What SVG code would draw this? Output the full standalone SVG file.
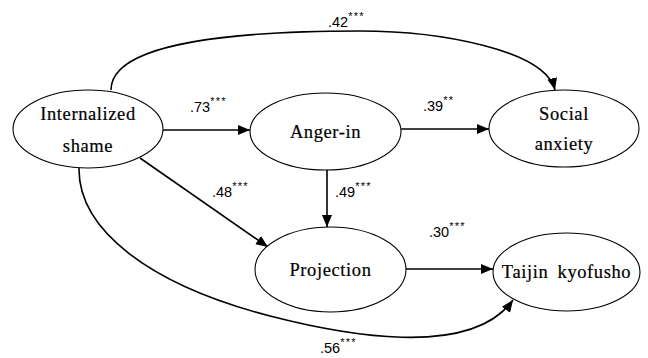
<svg xmlns="http://www.w3.org/2000/svg" width="648" height="358" viewBox="0 0 648 358">
<style>
.node ellipse{fill:#fff;stroke:#000;stroke-width:1.1}
.node text{font-family:'Liberation Serif','Times New Roman',serif;font-size:18.5px;letter-spacing:0.6px;text-anchor:middle;fill:#000;stroke:#000;stroke-width:0.2}
.edge{fill:none;stroke:#000;stroke-width:1.6;marker-end:url(#ah)}
.lbl{font-family:'Liberation Sans',Arial,sans-serif;font-size:14.5px;fill:#000}
.sup{font-size:11px;letter-spacing:1.2px}
</style>
<defs>
<marker id="ah" markerUnits="userSpaceOnUse" markerWidth="13" markerHeight="11" refX="12" refY="5" orient="auto">
<path d="M0,0 L12,5 L0,10 z" fill="#000"/>
</marker>
</defs>
<rect width="648" height="358" fill="#fff"/>
<g id="connectors">
<path class="edge" d="M163,130 H250"/>
<path class="edge" d="M401,129 H489"/>
<path class="edge" d="M327,170 V227"/>
<path class="edge" d="M406,269 H493"/>
<path class="edge" d="M140,158 L268,247"/>
<path class="edge" d="M111,90 C111,40 250,31 360,31 C440,31 545,50 555,90"/>
<path class="edge" d="M79,168 C78,230 150,285 270,316 C340,334 470,360 513,300"/>
</g>
<g id="labels">
<text class="lbl" x="328" y="27">.42<tspan class="sup" dy="-7">***</tspan></text>
<text class="lbl" x="190" y="112">.73<tspan class="sup" dy="-7">***</tspan></text>
<text class="lbl" x="423" y="111">.39<tspan class="sup" dy="-7">**</tspan></text>
<text class="lbl" x="212" y="197">.48<tspan class="sup" dy="-7">***</tspan></text>
<text class="lbl" x="335" y="197">.49<tspan class="sup" dy="-7">***</tspan></text>
<text class="lbl" x="429" y="237">.30<tspan class="sup" dy="-7">***</tspan></text>
<text class="lbl" x="320" y="353">.56<tspan class="sup" dy="-7">***</tspan></text>
</g>
<g id="shame" class="node">
<ellipse cx="88" cy="129" rx="75" ry="39"/>
<text x="88" y="120">Internalized</text>
<text x="88" y="152">shame</text>
</g>
<g id="anger" class="node">
<ellipse cx="325.5" cy="131.5" rx="75.5" ry="38.5"/>
<text x="325.5" y="138">Anger-in</text>
</g>
<g id="social" class="node">
<ellipse cx="564" cy="128.5" rx="75" ry="38.5"/>
<text x="564" y="120">Social</text>
<text x="564" y="150">anxiety</text>
</g>
<g id="projection" class="node">
<ellipse cx="330.5" cy="269.5" rx="75.5" ry="42.5"/>
<text x="330.5" y="276">Projection</text>
</g>
<g id="taijin" class="node">
<ellipse cx="566.5" cy="272" rx="73.5" ry="39"/>
<text x="566.5" y="278" style="word-spacing:4px">Taijin kyofusho</text>
</g>
</svg>
